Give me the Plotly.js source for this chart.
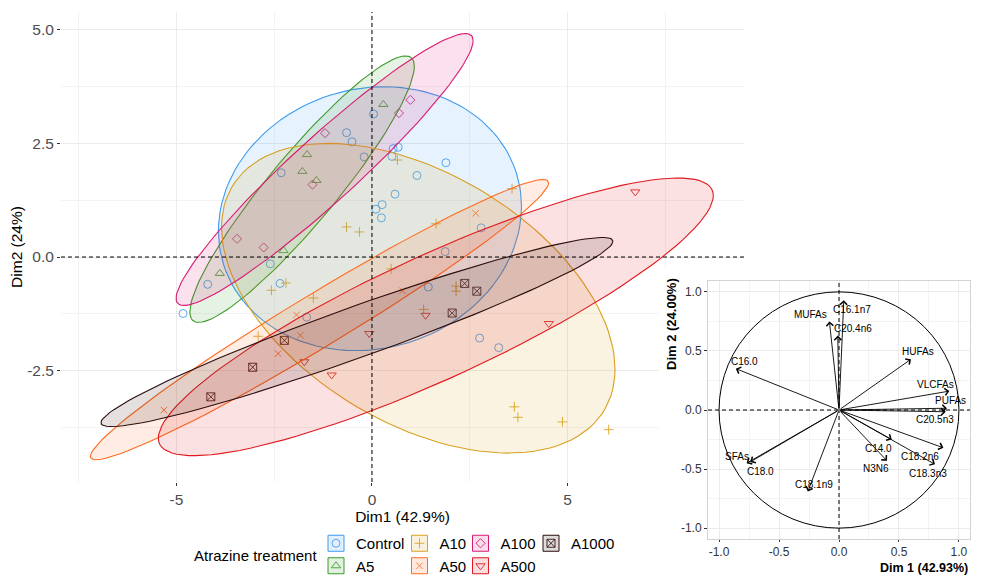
<!DOCTYPE html>
<html><head><meta charset="utf-8">
<script src="https://cdn.plot.ly/plotly-3.0.1.min.js"></script>
<style>html,body{margin:0;padding:0;background:#fff;} #chart{width:981px;height:576px;}</style>
</head><body><div id="chart"></div>
<script>
// ---------------- DATA ----------------
const groups = ['Control','A5','A10','A50','A100','A500','A1000'];

const controlX = [0.04,-0.65,-0.51,-0.20,0.54,0.67,0.51,1.89,1.15,0.59,0.26,0.10,0.24,2.79,-2.32,1.87,-2.60,-4.20,-4.83,-2.35,1.44,-1.67,2.75,3.24];
const controlY = [3.14,2.73,2.53,2.20,2.38,2.41,2.21,2.07,1.79,1.38,1.15,1.05,0.86,0.64,1.85,0.12,-0.15,-0.60,-1.24,-0.58,-0.66,-1.32,-1.78,-1.99];
const a5X = [0.29,-1.66,-1.78,-1.42,-2.26,-3.89];
const a5Y = [3.35,2.25,1.88,1.68,0.14,-0.36];
const a10X = [0.65,-0.65,-0.32,1.64,3.58,0.49,-1.50,2.15,2.15,1.32,-2.57,-2.91,-2.20,3.64,3.73,4.87,6.05];
const a10Y = [2.13,0.66,0.55,0.73,1.50,-0.26,-0.90,-0.64,-0.75,-1.15,-0.73,-1.74,-0.57,-3.29,-3.52,-3.62,-3.79];
const a50X = [2.65,0.78,-1.93,-1.83,-2.40,-5.32];
const a50Y = [0.96,-0.74,-1.27,-1.72,-2.12,-3.36];
const a100X = [0.98,0.69,-1.20,-1.52,-3.45,-2.77];
const a100Y = [3.45,3.16,2.72,1.59,0.40,0.21];
const a500X = [6.73,-0.07,1.37,-1.73,-1.03,4.52];
const a500Y = [1.43,-1.68,-1.28,-2.30,-2.59,-1.46];
const a1000X = [2.37,2.68,2.05,-2.24,-3.05,-4.12];
const a1000Y = [-0.58,-0.75,-1.23,-1.83,-2.42,-3.07];

const ellipseLevel = 0.8;   // normal-theory concentration ellipse level

const mainXTicks = [-5,0,5];
const mainXTickText = ['-5','0','5'];
const mainYTicks = [-2.5,0,2.5,5];
const mainYTickText = ['-2.5','0.0','2.5','5.0'];

// variables plot (correlation circle)
const varNames = ['C16.1n7','MUFAs','C20.4n6','HUFAs','VLCFAs','PUFAs','C20.5n3','C16.0','C14.0','N3N6','C18.2n6','C18.3n3','SFAs','C18.0','C18.1n9'];
const varDim1  = [0.04,-0.08,-0.01,0.60,0.92,0.90,0.89,-0.86,0.44,0.40,0.87,0.80,-0.77,-0.74,-0.26];
const varDim2  = [0.93,0.75,0.63,0.43,0.16,0.015,-0.015,0.35,-0.25,-0.43,-0.32,-0.46,-0.45,-0.44,-0.69];
const insetTicks = [-1,-0.5,0,0.5,1];
const insetTickText = ['-1.0','-0.5','0.0','0.5','1.0'];

// ---------------- STYLE ----------------
const FONT = '"Liberation Sans", Arial, Helvetica, sans-serif';
const W = 981, H = 576;
const colors = {Control:'#3D9BEF', A5:'#3C9A2A', A10:'#D9A01E', A50:'#FF6B1F', A100:'#D81B72', A500:'#E0191F', A1000:'#2B0D0D'};
const symbols = {Control:'circle-open', A5:'triangle-up-open', A10:'cross-thin-open', A50:'x-thin-open', A100:'diamond-open', A500:'triangle-down-open', A1000:'square-x-open'};
const sizes = {Control:8, A5:8, A10:7, A50:6.5, A100:7, A500:8, A1000:8};
const legendOf = {Control:'legend', A5:'legend', A10:'legend2', A50:'legend2', A100:'legend3', A500:'legend3', A1000:'legend4'};
const FILL_ALPHA = 0.13;
const X_RANGE = [-7.95, 9.51], Y_RANGE = [-4.94, 5.38];
const I_RANGE = [-1.092, 1.092];
// label offsets (px) relative to arrow tips in the variables plot
const labelShift = {
  'C16.1n7':[8,-9], 'MUFAs':[-19,7], 'C20.4n6':[15,7], 'HUFAs':[7,8], 'VLCFAs':[-14,7],
  'PUFAs':[4,8], 'C20.5n3':[-11,-8], 'C16.0':[9,7], 'C14.0':[-13,-9], 'N3N6':[-11,-8],
  'C18.2n6':[-23,-9], 'C18.3n3':[-7,-9], 'SFAs':[-10,7], 'C18.0':[10,-10], 'C18.1n9':[6,7]
};

const groupData = {
  Control:[controlX, controlY], A5:[a5X, a5Y], A10:[a10X, a10Y], A50:[a50X, a50Y],
  A100:[a100X, a100Y], A500:[a500X, a500Y], A1000:[a1000X, a1000Y]
};

function rgba(hex, a){
  const n = parseInt(hex.slice(1),16);
  return 'rgba(' + ((n>>16)&255) + ',' + ((n>>8)&255) + ',' + (n&255) + ',' + a + ')';
}
// ggplot2 stat_ellipse(type = "norm") algorithm
function normEllipse(xs, ys, level, seg){
  const n = xs.length;
  const mx = xs.reduce((a,b)=>a+b,0)/n, my = ys.reduce((a,b)=>a+b,0)/n;
  let sxx=0, syy=0, sxy=0;
  for(let i=0;i<n;i++){ const dx=xs[i]-mx, dy=ys[i]-my; sxx+=dx*dx; syy+=dy*dy; sxy+=dx*dy; }
  sxx/=(n-1); syy/=(n-1); sxy/=(n-1);
  const dfd = n-1;
  const q = (dfd/2)*(Math.pow(1-level, -2/dfd) - 1); // qf(level, 2, dfd)
  const r = Math.sqrt(2*q);
  const u11 = Math.sqrt(sxx), u12 = sxy/u11, u22 = Math.sqrt(Math.max(syy - u12*u12, 0));
  const ex=[], ey=[];
  for(let i=0;i<=seg;i++){
    const t = 2*Math.PI*i/seg, c=Math.cos(t), s=Math.sin(t);
    ex.push(mx + r*c*u11);
    ey.push(my + r*(c*u12 + s*u22));
  }
  return [ex, ey];
}

// ---------------- TRACES ----------------
const traces = [];
groups.forEach(g => {
  const [xs, ys] = groupData[g];
  traces.push({
    type:'scatter', mode:'markers', x:xs, y:ys, name:g, legend:legendOf[g],
    marker:{symbol:symbols[g], size:sizes[g], color:colors[g], opacity:0.85, line:{width:1}},
    hoverinfo:'skip', xaxis:'x', yaxis:'y'
  });
});
groups.forEach(g => {
  const [xs, ys] = groupData[g];
  const [ex, ey] = normEllipse(xs, ys, ellipseLevel, 120);
  traces.push({
    type:'scatter', mode:'lines', x:ex, y:ey, fill:'toself', fillcolor:rgba(colors[g], FILL_ALPHA),
    line:{color:colors[g], width:1.1}, showlegend:false, hoverinfo:'skip', xaxis:'x', yaxis:'y'
  });
});
// white background panel for inset
traces.push({type:'scatter', mode:'markers', x:[null], y:[null], xaxis:'x2', yaxis:'y2', showlegend:false, hoverinfo:'skip'});
// inset: invisible tip markers (creates subplot)
traces.push({type:'scatter', mode:'markers', x:varDim1, y:varDim2, xaxis:'x3', yaxis:'y3',
  marker:{size:1, opacity:0}, showlegend:false, hoverinfo:'skip'});

// ---------------- LAYOUT ----------------
const annotations = [];
varNames.forEach((nm, i) => {
  annotations.push({x:varDim1[i], y:varDim2[i], xref:'x3', yref:'y3', ax:0, ay:0, axref:'x3', ayref:'y3',
    showarrow:true, arrowhead:4, arrowsize:1.5, arrowwidth:0.9, arrowcolor:'#000', text:'', standoff:0, startstandoff:0});
});
varNames.forEach((nm, i) => {
  const sh = labelShift[nm] || [0,0];
  annotations.push({x:varDim1[i], y:varDim2[i], xref:'x3', yref:'y3', showarrow:false, text:nm,
    xshift:sh[0], yshift:sh[1], xanchor:'center', yanchor:'middle', font:{size:10, color:'#000', family:FONT}});
});
annotations.push({text:'<b>Dim 1 (42.93%)</b>', xref:'paper', yref:'paper', x:970/W, y:1-567.5/H, xanchor:'right', yanchor:'middle', showarrow:false, font:{size:12.5, color:'#000'}});
annotations.push({text:'<b>Dim 2 (24.00%)</b>', xref:'paper', yref:'paper', x:671/W, y:1-324/H, xanchor:'center', yanchor:'middle', textangle:-90, showarrow:false, font:{size:13, color:'#000'}});
annotations.push({text:'Atrazine treatment', xref:'paper', yref:'paper', x:192/W, y:1-555/H, xanchor:'left', yanchor:'middle', showarrow:false, font:{size:15, color:'#000'}});

const dash = '4px,3px';
const shapes = [
  {type:'line', xref:'x', yref:'y', x0:0, x1:0, y0:Y_RANGE[0], y1:Y_RANGE[1], line:{color:'#000', width:1, dash:dash}, layer:'above'},
  {type:'line', xref:'x', yref:'y', x0:X_RANGE[0], x1:X_RANGE[1], y0:0, y1:0, line:{color:'#000', width:1, dash:dash}, layer:'above'},
  {type:'line', xref:'x3', yref:'y3', x0:0, x1:0, y0:I_RANGE[0], y1:I_RANGE[1], line:{color:'#000', width:1, dash:dash}, layer:'above'},
  {type:'line', xref:'x3', yref:'y3', x0:I_RANGE[0], x1:I_RANGE[1], y0:0, y1:0, line:{color:'#000', width:1, dash:dash}, layer:'above'},
  {type:'circle', xref:'x3', yref:'y3', x0:-1, x1:1, y0:-1, y1:1, line:{color:'#000', width:1}, layer:'above'}
];

// legend columns
const LEG_TOP = 527;          // px from top
const LEG_ITEM_H = 22.5;
const legLeft = {legend:316, legend2:399.5, legend3:460.5, legend4:531};
function legendCfg(id){
  return {x:legLeft[id]/W, xanchor:'left', y:1-LEG_TOP/H, yanchor:'top', orientation:'v',
    bgcolor:'rgba(0,0,0,0)', borderwidth:0, font:{size:15, color:'#000', family:FONT},
    itemclick:false, itemdoubleclick:false, tracegroupgap:0};
}
// key boxes behind legend symbols
const legRow = {};
groups.forEach(g => {
  const id = legendOf[g];
  legRow[id] = (legRow[id] || 0);
  const row = legRow[id]++;
  const cx = legLeft[id] + 20, cy = LEG_TOP + 5 + LEG_ITEM_H/2 + row*LEG_ITEM_H;
  shapes.push({type:'rect', xref:'paper', yref:'paper', x0:(cx-8)/W, x1:(cx+8)/W, y0:1-(cy+8)/H, y1:1-(cy-8)/H,
    fillcolor:rgba(colors[g], 0.15), line:{color:colors[g], width:1}, layer:'below'});
});

const grid = '#EBEBEB', minorGrid = '#F3F3F3';
const layout = {
  width:W, height:H, margin:{l:0,r:0,t:0,b:0,pad:0,autoexpand:false}, paper_bgcolor:'#fff', plot_bgcolor:'#fff',
  font:{family:FONT, color:'#000'}, showlegend:true, hovermode:false,
  xaxis:{domain:[61/W, 744/W], anchor:'y', range:X_RANGE, tickmode:'array', tickvals:mainXTicks, ticktext:mainXTickText,
    ticks:'outside', ticklen:3, tickcolor:'#333', tickfont:{size:15.5, color:'#4D4D4D'},
    showgrid:true, gridcolor:grid, gridwidth:1, zeroline:false, showline:false,
    minor:{tickmode:'array', tickvals:[-7.5,-2.5,2.5,7.5], showgrid:true, gridcolor:minorGrid, gridwidth:1, ticks:''},
    title:{text:'Dim1 (42.9%)', font:{size:15.5, color:'#000'}, standoff:3}},
  yaxis:{domain:[1-482/H, 1-12/H], anchor:'x', range:Y_RANGE, tickmode:'array', tickvals:mainYTicks, ticktext:mainYTickText,
    ticks:'outside', ticklen:3, tickcolor:'#333', tickfont:{size:15.5, color:'#4D4D4D'},
    showgrid:true, gridcolor:grid, gridwidth:1, zeroline:false, showline:false,
    minor:{tickmode:'array', tickvals:[-3.75,-1.25,1.25,3.75], showgrid:true, gridcolor:minorGrid, gridwidth:1, ticks:''},
    title:{text:'Dim2 (24%)', font:{size:15.5, color:'#000'}, standoff:0}},
  xaxis2:{domain:[659/W, 1], anchor:'y2', range:[0,1], visible:false},
  yaxis2:{domain:[0, 1-268/H], anchor:'x2', range:[0,1], visible:false},
  xaxis3:{domain:[708/W, 970/W], anchor:'y3', range:I_RANGE, tickmode:'array', tickvals:insetTicks, ticktext:insetTickText,
    ticks:'outside', ticklen:2, tickcolor:'#333', tickfont:{size:12, color:'#333'},
    showgrid:true, gridcolor:grid, gridwidth:1, zeroline:false, showline:true, mirror:true, linecolor:'#D3D3D3', linewidth:1,
    minor:{tickmode:'array', tickvals:[-0.75,-0.25,0.25,0.75], showgrid:true, gridcolor:minorGrid, gridwidth:1, ticks:''}},
  yaxis3:{domain:[1-539/H, 1-281/H], anchor:'x3', range:I_RANGE, tickmode:'array', tickvals:insetTicks, ticktext:insetTickText,
    ticks:'outside', ticklen:3, tickcolor:'#333', tickfont:{size:12, color:'#333'},
    showgrid:true, gridcolor:grid, gridwidth:1, zeroline:false, showline:true, mirror:true, linecolor:'#D3D3D3', linewidth:1,
    minor:{tickmode:'array', tickvals:[-0.75,-0.25,0.25,0.75], showgrid:true, gridcolor:minorGrid, gridwidth:1, ticks:''}},
  legend:legendCfg('legend'), legend2:legendCfg('legend2'), legend3:legendCfg('legend3'), legend4:legendCfg('legend4'),
  annotations:annotations, shapes:shapes
};

Plotly.newPlot('chart', traces, layout, {staticPlot:true, displayModeBar:false});
</script>
</body></html>
